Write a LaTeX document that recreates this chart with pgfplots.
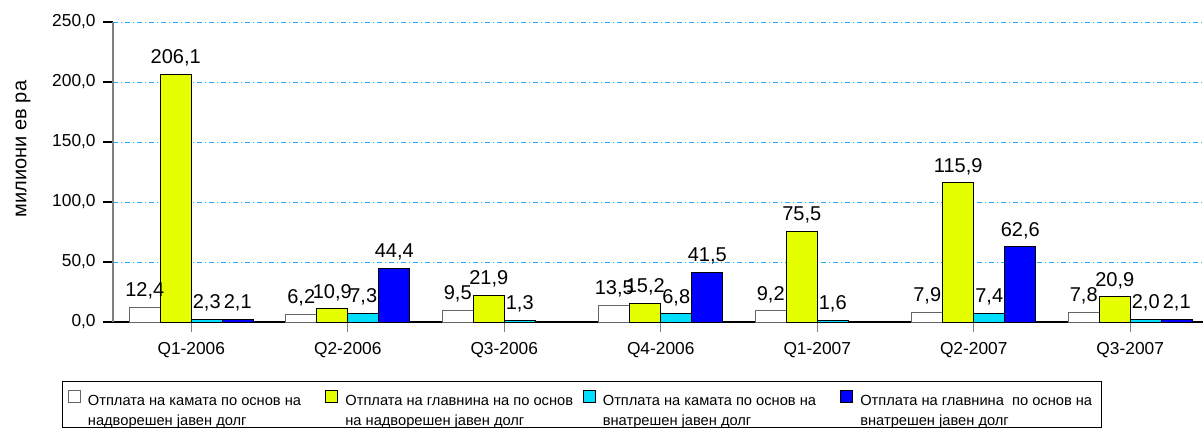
\documentclass[border=0pt]{standalone}
\usepackage{pgfplots}
\pgfplotsset{compat=1.18}
\usepackage{fontspec}
\setmainfont{Liberation Sans}
\definecolor{cYellow}{RGB}{230,255,0}
\definecolor{cCyan}{RGB}{0,221,255}
\definecolor{cBlue}{RGB}{0,0,255}
\definecolor{cGrid}{RGB}{40,170,255}
\newcommand{\lgd}[2]{\parbox[c]{175pt}{\mbox{#1}\\\mbox{#2}}}
\begin{document}
\begin{tikzpicture}
\useasboundingbox (0,0) rectangle (902.25pt,322.5pt);
\begin{axis}[
  at={(84.75pt,81pt)}, anchor=south west,
  scale only axis, width=821.6pt, height=225pt,
  xmin=-0.5, xmax=6.5, ymin=0, ymax=250,
  ybar=0pt, bar width=23.25pt,
  xtick={0,1,2,3,4,5,6},
  xticklabels={Q1-2006,Q2-2006,Q3-2006,Q4-2006,Q1-2007,Q2-2007,Q3-2007},
  ytick={0,50,100,150,200,250},
  axis x line*=bottom, axis y line*=left,
  x axis line style={black, line width=0.8pt, -},
  y axis line style={black!50, line width=0.8pt, -},
  tick align=outside, major tick length=7.5pt,
  xtick style={black!50, line width=0.8pt},
  ytick style={black, line width=0.8pt},
  ymajorgrids,
  grid style={cGrid, line width=0.6pt, dash pattern=on 4pt off 2pt on 1pt off 2pt},
  /pgf/number format/.cd, fixed, fixed zerofill, precision=1, use comma, assume math mode=true,
  /pgfplots/.cd,
  yticklabel style={font=\fontsize{13}{15}\selectfont, xshift=-2pt},
  xticklabel style={font=\fontsize{13}{15}\selectfont, yshift=-4pt},
  ylabel={милиони ев ра},
  ylabel style={font=\fontsize{15}{17}\selectfont, at={(axis description cs:-0.0822,0.577)}, anchor=center},
  nodes near coords,
  every node near coord/.append style={font=\fontsize{15}{17}\selectfont, black, yshift=2.5pt},
  every axis plot post/.append style={legend image code/.code={\draw[##1, line width=0.6pt] (0pt,3pt) rectangle (9pt,12pt);}},
  legend columns=4,
  legend cell align=left,
  legend style={at={(axis description cs:-0.0466,-0.1967)}, anchor=north west,
    draw=black, line width=0.75pt, font=\fontsize{11}{15}\selectfont,
    inner xsep=4pt, inner ysep=6pt,
    /tikz/every odd column/.append style={column sep=3.5pt},
    /tikz/every even column/.append style={column sep=1pt}},
]
\addplot[fill=white, draw=black!60, line width=0.75pt] coordinates {(0,12.4) (1,6.2) (2,9.5) (3,13.5) (4,9.2) (5,7.9) (6,7.8)};
\addlegendentry{\lgd{Отплата на камата по основ на}{надворешен јавен долг}}
\addplot[fill=cYellow, draw=black, line width=0.75pt] coordinates {(0,206.1) (1,10.9) (2,21.9) (3,15.2) (4,75.5) (5,115.9) (6,20.9)};
\addlegendentry{\lgd{Отплата на главнина на по основ}{на надворешен јавен долг}}
\addplot[fill=cCyan, draw=black, line width=0.75pt] coordinates {(0,2.3) (1,7.3) (2,1.3) (3,6.8) (4,1.6) (5,7.4) (6,2.0)};
\addlegendentry{\lgd{Отплата на камата по основ на}{внатрешен јавен долг}}
\addplot[fill=cBlue, draw=black, line width=0.75pt] coordinates {(0,2.1) (1,44.4) (3,41.5) (5,62.6) (6,2.1)};
\addlegendentry{\lgd{Отплата на главнина \ по основ на}{внатрешен јавен долг}}
\end{axis}
\end{tikzpicture}
\end{document}
